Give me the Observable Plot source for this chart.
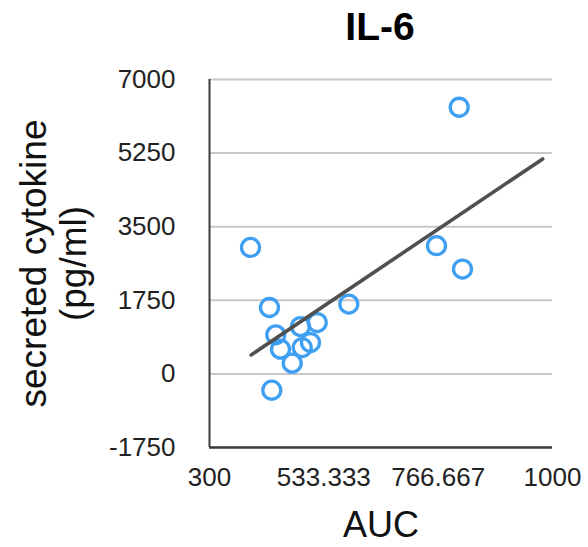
<!DOCTYPE html>
<html>
<head>
<meta charset="utf-8">
<script src="https://cdn.jsdelivr.net/npm/d3@7"></script>
<script src="https://cdn.jsdelivr.net/npm/@observablehq/plot@0.6"></script>
<style>
  html, body { margin: 0; padding: 0; background: #fff; }
  #title {
    box-sizing: border-box; height: 60px; width: 588px;
    padding-top: 7px; padding-left: 172px;
    text-align: center; font-family: "Liberation Sans", Arial, sans-serif;
    font-weight: bold; font-size: 39px; line-height: 1; color: #000;
  }
</style>
</head>
<body>
<div id="title"></div>
<div id="chart"></div>
<script>
const titleText = "IL-6";
const xLabel = "AUC";
const yLabel = "secreted cytokine\n(pg/ml)";

const auc =      [383.7, 809.6, 763.3, 816.3, 584.3, 422.4, 519.8, 485.7, 435.3, 506.1, 489.2, 444.9, 468.8, 427.1];
const cytokine = [3007,  6340,  3048,  2493,  1660,  1579,  1221,  1126,  929,   745,   626,   588,   255,   -388];

const trendAUC = [385, 980];
const trendCytokine = [452, 5112];

const yTicks = [-1750, 0, 1750, 3500, 5250, 7000];
const xTicks = [300, 533.333, 766.667, 1000];
const xTickLabels = ["300", "533.333", "766.667", "1000"];

document.getElementById("title").textContent = titleText;

const points = auc.map((a, i) => ({auc: a, cyto: cytokine[i]}));
const trend = trendAUC.map((a, i) => ({auc: a, cyto: trendCytokine[i]}));

const chart = Plot.plot({
  width: 588,
  height: 487,
  marginLeft: 209,
  marginRight: 36,
  marginTop: 19,
  marginBottom: 100,
  x: {domain: [300, 1000]},
  y: {domain: [-1750, 7000]},
  style: {fontFamily: '"Liberation Sans", Arial, sans-serif', color: "#222", background: "#fff"},
  marks: [
    Plot.ruleY(yTicks.slice(1), {stroke: "#c8c8c8", strokeWidth: 2}),
    Plot.ruleY([yTicks[0]], {stroke: "#3a3a3a", strokeWidth: 2.5}),
    Plot.ruleX([xTicks[0]], {stroke: "#3a3a3a", strokeWidth: 2}),
    Plot.axisY({ticks: yTicks, tickFormat: d => String(d), tickSize: 0, tickPadding: 34, fontSize: 26, label: null}),
    Plot.axisX({ticks: xTicks, tickFormat: d => xTickLabels[xTicks.indexOf(d)], tickSize: 0, tickPadding: 20, fontSize: 26, label: null}),
    Plot.dot(points, {x: "auc", y: "cyto", r: 9, stroke: "#3f9ff2", strokeWidth: 3.3, fill: "none"}),
    Plot.line(trend, {x: "auc", y: "cyto", stroke: "#505050", strokeWidth: 3.6}),
    Plot.text([yLabel], {text: d => d, frameAnchor: "left", textAnchor: "middle", rotate: -90, dx: -156, fontSize: 37, lineHeight: 1.08, fill: "#111"}),
    Plot.text([xLabel], {text: d => d, frameAnchor: "bottom", dy: 89, fontSize: 36, fill: "#111"})
  ]
});
document.getElementById("chart").appendChild(chart);
</script>
</body>
</html>
